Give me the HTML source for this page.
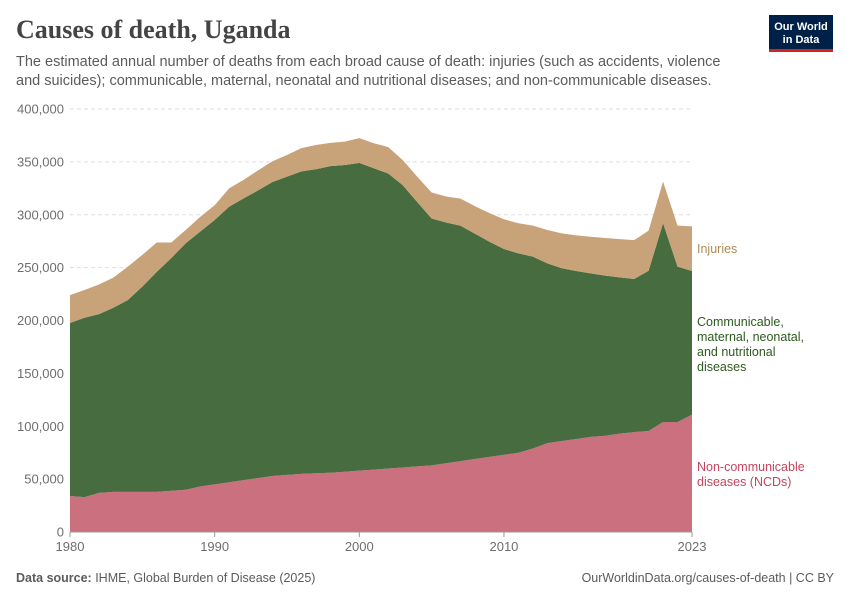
<!DOCTYPE html>
<html><head><meta charset="utf-8"><style>
body{margin:0;background:#fff;font-family:"Liberation Sans",sans-serif;}
</style></head><body>
<svg id="c" width="850" height="600" viewBox="0 0 850 600" font-family="Liberation Sans, sans-serif">
<text x="16" y="38" style="font-family:'Liberation Serif',serif" font-size="26" font-weight="bold" fill="#444">Causes of death, Uganda</text>
<text x="16" y="66" font-size="14.5" fill="#5b5b5b">The estimated annual number of deaths from each broad cause of death: injuries (such as accidents, violence</text>
<text x="16" y="85" font-size="14.5" fill="#5b5b5b">and suicides); communicable, maternal, neonatal and nutritional diseases; and non-communicable diseases.</text>
<g>
<rect x="769" y="15" width="64" height="36" fill="#002147"/>
<rect x="769" y="49" width="64" height="3" fill="#ce261e"/>
<text x="801" y="30" font-size="11" font-weight="bold" fill="#fff" text-anchor="middle">Our World</text>
<text x="801" y="43" font-size="11" font-weight="bold" fill="#fff" text-anchor="middle">in Data</text>
</g>
<g id="grid"></g><g id="areas"></g><g id="axes"></g>
<text x="697" y="253" font-size="12.5" fill="#b08a5a">Injuries</text>
<g font-size="12.5" fill="#2d5a1e">
<text x="697" y="326">Communicable,</text><text x="697" y="341">maternal, neonatal,</text><text x="697" y="356">and nutritional</text><text x="697" y="371">diseases</text></g>
<g font-size="12.5" fill="#c2455e">
<text x="697" y="471">Non-communicable</text><text x="697" y="486">diseases (NCDs)</text></g>
<text x="16" y="582" font-size="12.5" fill="#5b5b5b"><tspan font-weight="bold">Data source:</tspan> IHME, Global Burden of Disease (2025)</text>
<text x="834" y="582" font-size="12.5" fill="#5b5b5b" text-anchor="end">OurWorldinData.org/causes-of-death | CC BY</text>
</svg>
<script>
const years=[];for(let y=1980;y<=2023;y++)years.push(y);
const ncd=[34,33,37,38,38,38,38,39,40,43,45,47,49,51,53,54,55,55.5,56,57,58,59,60,61,62,63,65,67,69,71,73,75,79,84,86,88,90,91,93,94.5,95.5,104,104,111];
const cmnn=[163.6,169.6,169,174,181.4,194,208,220,233,241,250,260.6,266.5,272,278,282,286,287.5,290,290,291,285,279,267,250,233.5,227.7,222.6,213,203.5,194.6,188.5,181.4,170,163.4,158.8,154.6,151.4,147.8,144.7,151.5,188,147,135.8];
const inj=[26.4,26.2,28,28.5,31.6,30,27.8,14.8,12.6,14,14,17.4,17.5,19,19.6,20.5,22,23,22,22.2,23.4,23.6,25,23.8,24,24.5,24.6,25.7,26,27,28.2,28.5,29.3,31.6,33,33.7,34.6,35.6,36.2,36.8,38,39.3,38.7,42.2];
const yTicks=[0,50000,100000,150000,200000,250000,300000,350000,400000];
const xTicks=[1980,1990,2000,2010,2023];
const NS="http://www.w3.org/2000/svg";
const X=y=>70+(y-1980)*(622/43);
const Y=v=>532-v*(423/400000);
function mk(t,a,p){const e=document.createElementNS(NS,t);for(const k in a)e.setAttribute(k,a[k]);p.appendChild(e);return e;}
const grid=document.getElementById('grid'),axes=document.getElementById('axes'),areas=document.getElementById('areas');
yTicks.forEach(v=>{
 if(v>0){const l=mk('line',{x1:70,x2:692,y1:Y(v),y2:Y(v),stroke:'#ddd','stroke-dasharray':'4,3'},grid);
 
 }
 const t=mk('text',{x:64,y:Y(v)+4.5,'text-anchor':'end','font-size':13,fill:'#6e6e6e'},axes);t.textContent=v.toLocaleString('en-US');
 
 
});
const base=mk('line',{x1:70,x2:692,y1:532,y2:532,stroke:'#999'},axes);


xTicks.forEach(yr=>{
 mk('line',{x1:X(yr),x2:X(yr),y1:532,y2:537,stroke:'#999'},axes);
 const t=mk('text',{x:X(yr),y:551,'text-anchor':'middle','font-size':13,fill:'#6e6e6e'},axes);t.textContent=yr;
 
 
});
const series=[[ncd,'#ca707e','area-ncds'],[cmnn,'#466c40','area-communicable'],[inj,'#c8a278','area-injuries']];
let lower=years.map(()=>0);
series.forEach(([vals,col,name])=>{
 const upper=lower.map((b,i)=>b+vals[i]*1000);
 let d='M'+years.map((y,i)=>X(y)+','+Y(upper[i])).join('L');
 for(let i=years.length-1;i>=0;i--)d+='L'+X(years[i])+','+Y(lower[i]);
 const p=mk('path',{d:d+'Z',fill:col},areas);
 
 
 lower=upper;
});
</script>
</body></html>
